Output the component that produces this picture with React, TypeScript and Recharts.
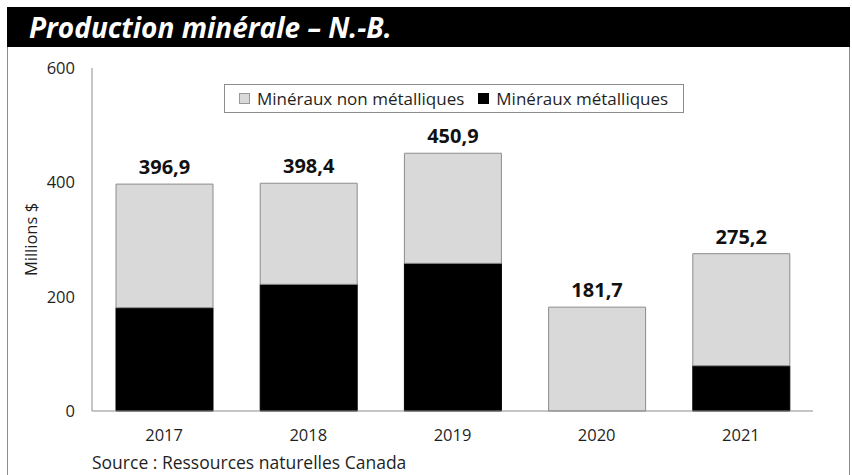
import React from "react";
import { BarChart, Bar, XAxis, YAxis, LabelList, Legend } from "recharts";

const years = ["2017", "2018", "2019", "2020", "2021"];
const metalValues = [180.7, 221.6, 258.3, 0, 79.2];
const nonMetalValues = [216.2, 176.8, 192.6, 181.7, 196.0];
const totals = [396.9, 398.4, 450.9, 181.7, 275.2];
const yTicks = [0, 200, 400, 600];

const NON_METAL = "Minéraux non métalliques";
const METAL = "Minéraux métalliques";

const data = years.map((y, i) => ({
  year: y,
  metal: metalValues[i],
  nonMetal: nonMetalValues[i],
  total: totals[i],
}));

const FONT = "'Open Sans', 'Noto Sans', sans-serif";
const GRAY = "#8c8c8c";
const LIGHT = "#d9d9d9";
const TXT = "#1f1f1f";

const legendItems = [
  { name: NON_METAL, fill: LIGHT, border: "#999" },
  { name: METAL, fill: "#000", border: "#000" },
];

const LegendBox = () => (
  <div
    style={{
      position: "absolute",
      left: 224,
      top: 84,
      width: 458,
      height: 27,
      border: `1px solid ${GRAY}`,
      background: "#fff",
      display: "flex",
      alignItems: "center",
      fontFamily: FONT,
      fontSize: 17,
      color: TXT,
      boxSizing: "content-box",
      whiteSpace: "nowrap",
    }}
  >
    {legendItems.map((it) => (
      <div
        key={it.name}
        style={{ display: "flex", alignItems: "center", marginLeft: 14 }}
      >
        <span
          style={{
            display: "inline-block",
            width: 9,
            height: 9,
            background: it.fill,
            border: `1px solid ${it.border}`,
            marginRight: 7,
          }}
        />
        <span>{it.name}</span>
      </div>
    ))}
  </div>
);

const fmt = (v: number) => v.toFixed(1).replace(".", ",");

export default function App() {
  return (
    <div
      style={{
        position: "absolute",
        left: 0,
        top: 0,
        width: 852,
        height: 475,
        background: "#fff",
        overflow: "hidden",
        fontFamily: FONT,
      }}
    >
      <div
        style={{
          position: "absolute",
          left: 7,
          top: 7,
          width: 841,
          height: 480,
          borderLeft: `1px solid ${GRAY}`,
          borderRight: `1px solid ${GRAY}`,
        }}
      />
      <div
        style={{
          position: "absolute",
          left: 7,
          top: 7,
          width: 843,
          height: 40,
          background: "#000",
        }}
      />
      <div
        style={{
          position: "absolute",
          left: 29,
          top: 8,
          color: "#fff",
          fontFamily: FONT,
          fontWeight: 700,
          fontStyle: "italic",
          fontSize: 28,
          lineHeight: "38px",
          whiteSpace: "nowrap",
        }}
      >
        Production minérale – N.-B.
      </div>
      <div style={{ position: "absolute", left: 0, top: 0 }}>
        <BarChart
          width={852}
          height={475}
          data={data}
          margin={{ top: 68, right: 39, bottom: 34, left: 20 }}
        >
          <XAxis
            dataKey="year"
            height={30}
            axisLine={{ stroke: GRAY }}
            tickLine={false}
            tickSize={0}
            tickMargin={18}
            tick={{ fontSize: 16.5, fill: TXT, fontFamily: FONT }}
          />
          <XAxis
            xAxisId="top"
            dataKey="year"
            orientation="top"
            height={0}
            tick={false}
            tickLine={false}
            axisLine={{ stroke: GRAY }}
          />
          <YAxis
            domain={[0, 600]}
            ticks={yTicks}
            width={72}
            axisLine={{ stroke: GRAY }}
            tickLine={false}
            tickSize={0}
            tickMargin={17}
            tick={{ fontSize: 16.5, fill: TXT, fontFamily: FONT }}
            label={{
              value: "Millions $",
              angle: -90,
              position: "insideLeft",
              offset: 11,
              style: { textAnchor: "middle", fontSize: 16.5, fill: TXT, fontFamily: FONT },
            }}
          />
          <YAxis
            yAxisId="right"
            orientation="right"
            domain={[0, 600]}
            width={0}
            tick={false}
            tickLine={false}
            axisLine={{ stroke: GRAY }}
          />
          <Legend content={() => <LegendBox />} wrapperStyle={{ position: "absolute", left: 0, top: 0 }} />
          <Bar
            dataKey="metal"
            name={METAL}
            stackId="a"
            fill="#000"
            stroke="#000"
            barSize={97}
            isAnimationActive={false}
          />
          <Bar
            dataKey="nonMetal"
            name={NON_METAL}
            stackId="a"
            fill={LIGHT}
            stroke={GRAY}
            barSize={97}
            isAnimationActive={false}
          >
            <LabelList
              dataKey="total"
              position="top"
              offset={10}
              formatter={(v: any) => fmt(Number(v))}
              style={{ fontSize: 20, fontWeight: 700, fill: "#111", fontFamily: FONT }}
            />
          </Bar>
        </BarChart>
      </div>
      <div
        style={{
          position: "absolute",
          left: 92,
          top: 451,
          fontSize: 17.5,
          color: TXT,
          fontFamily: FONT,
          lineHeight: "22px",
          whiteSpace: "nowrap",
        }}
      >
        Source : Ressources naturelles Canada
      </div>
    </div>
  );
}
